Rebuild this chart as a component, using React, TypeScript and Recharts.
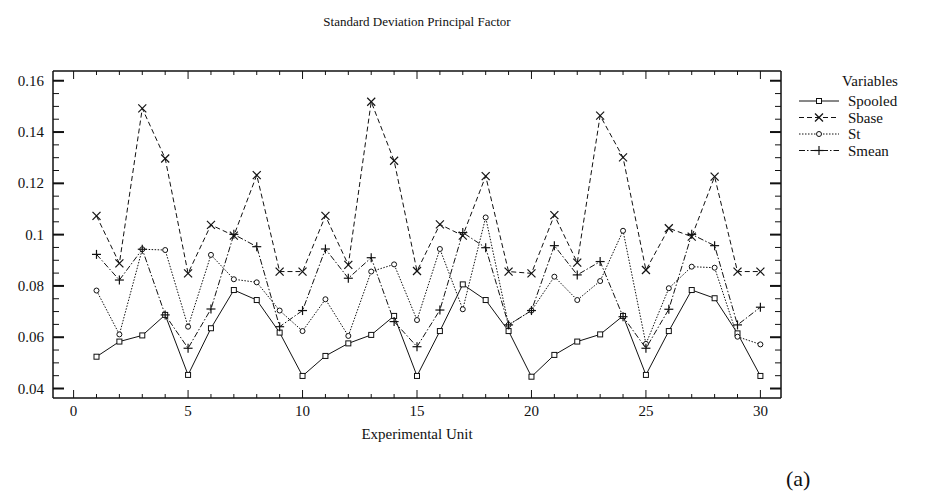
import React from 'react';
import { Line, LineChart, XAxis, YAxis } from 'recharts';

// values
const units = [1, 2, 3, 4, 5, 6, 7, 8, 9, 10, 11, 12, 13, 14, 15, 16, 17, 18, 19, 20, 21, 22, 23, 24, 25, 26, 27, 28, 29, 30];
const spooled = [0.0524, 0.0583, 0.0607, 0.0687, 0.0453, 0.0635, 0.0784, 0.0745, 0.0618, 0.0449, 0.0527, 0.0576, 0.0609, 0.0683, 0.0449, 0.0624, 0.0806, 0.0745, 0.0624, 0.0446, 0.0531, 0.0583, 0.0611, 0.0683, 0.0453, 0.0624, 0.0784, 0.0752, 0.0615, 0.0449];
const sbase = [0.1073, 0.0888, 0.1492, 0.1297, 0.0849, 0.1038, 0.0996, 0.1232, 0.0856, 0.0856, 0.1073, 0.0882, 0.1518, 0.1288, 0.0858, 0.104, 0.0996, 0.1228, 0.0856, 0.0849, 0.1076, 0.0891, 0.1464, 0.1301, 0.0862, 0.1025, 0.0992, 0.1226, 0.0856, 0.0856];
const st = [0.0782, 0.0611, 0.0943, 0.094, 0.0641, 0.0921, 0.0826, 0.0814, 0.0704, 0.0624, 0.0748, 0.0605, 0.0856, 0.0884, 0.0667, 0.0944, 0.0709, 0.1067, 0.0648, 0.0704, 0.0836, 0.0745, 0.0819, 0.1015, 0.0574, 0.0791, 0.0875, 0.0871, 0.0602, 0.0572];
const smean = [0.0923, 0.0823, 0.0943, 0.0687, 0.0557, 0.071, 0.1001, 0.0953, 0.0641, 0.0704, 0.0944, 0.083, 0.091, 0.0661, 0.0563, 0.0706, 0.1008, 0.0949, 0.0648, 0.0704, 0.0957, 0.0843, 0.0895, 0.068, 0.0557, 0.0709, 0.1001, 0.0957, 0.0648, 0.0717];

const xTicks = [0, 1, 2, 3, 4, 5, 6, 7, 8, 9, 10, 11, 12, 13, 14, 15, 16, 17, 18, 19, 20, 21, 22, 23, 24, 25, 26, 27, 28, 29, 30];
const yTicks = [0.04, 0.045, 0.05, 0.055, 0.06, 0.065, 0.07, 0.075, 0.08, 0.085, 0.09, 0.095, 0.1, 0.105, 0.11, 0.115, 0.12, 0.125, 0.13, 0.135, 0.14, 0.145, 0.15, 0.155, 0.16];

const data = units.map((u, i) => ({ unit: u, Spooled: spooled[i], Sbase: sbase[i], St: st[i], Smean: smean[i] }));

const FONT = "'Liberation Serif', 'Times New Roman', Times, serif";
const INK = '#111';

const series = [
  { key: 'Spooled', dash: undefined, marker: 'square' },
  { key: 'Sbase', dash: '5 3', marker: 'cross' },
  { key: 'St', dash: '1.5 1.5', marker: 'circle' },
  { key: 'Smean', dash: '6 2 1.5 2', marker: 'plus' },
];

function Marker({ type, cx, cy }: { type: string; cx: number; cy: number }) {
  if (type === 'square') return <rect x={cx - 2.5} y={cy - 2.5} width={5} height={5} fill="#fff" stroke={INK} strokeWidth={1} />;
  if (type === 'circle') return <circle cx={cx} cy={cy} r={2.5} fill="#fff" stroke={INK} strokeWidth={1} />;
  if (type === 'cross')
    return (
      <g stroke={INK} strokeWidth={1.2}>
        <line x1={cx - 4} y1={cy - 4} x2={cx + 4} y2={cy + 4} />
        <line x1={cx - 4} y1={cy + 4} x2={cx + 4} y2={cy - 4} />
      </g>
    );
  return (
    <g stroke={INK} strokeWidth={1.2}>
      <line x1={cx - 4.5} y1={cy} x2={cx + 4.5} y2={cy} />
      <line x1={cx} y1={cy - 4.5} x2={cx} y2={cy + 4.5} />
    </g>
  );
}

const isMajorX = (v: number) => v % 5 === 0;
const isMajorY = (v: number) => Math.round(v * 1000) % 20 === 0;

function BottomTick(props: any) {
  const { x, y, payload } = props;
  const major = isMajorX(payload.value);
  return (
    <g>
      <line x1={x} y1={y} x2={x} y2={y - (major ? 8 : 4)} stroke={INK} />
      {major && (
        <text x={x} y={y + 18} textAnchor="middle" fontFamily={FONT} fontSize={15} fill={INK}>
          {payload.value}
        </text>
      )}
    </g>
  );
}

function TopTick(props: any) {
  const { x, y, payload } = props;
  const major = isMajorX(payload.value);
  return <line x1={x} y1={y} x2={x} y2={y + (major ? 8 : 4)} stroke={INK} />;
}

function LeftTick(props: any) {
  const { x, y, payload } = props;
  const major = isMajorY(payload.value);
  return (
    <g>
      <line x1={x} y1={y} x2={x + (major ? 11 : 6)} y2={y} stroke={INK} strokeWidth={major ? 2 : 1} />
      {major && (
        <text x={x - 9} y={y + 5} textAnchor="end" fontFamily={FONT} fontSize={15} fill={INK}>
          {String(Number(payload.value.toFixed(3)))}
        </text>
      )}
    </g>
  );
}

function RightTick(props: any) {
  const { x, y, payload } = props;
  const major = isMajorY(payload.value);
  return <line x1={x} y1={y} x2={x - (major ? 11 : 6)} y2={y} stroke={INK} strokeWidth={major ? 2 : 1} />;
}

function LegendBox() {
  return (
    <svg width={160} height={110} style={{ position: 'absolute', left: 783, top: 68 }}>
      <text x={87} y={18} textAnchor="middle" fontFamily={FONT} fontSize={15} fill={INK}>
        Variables
      </text>
      {series.map((s, i) => {
        const y = 33 + i * 16.5;
        return (
          <g key={s.key}>
            <line x1={16} y1={y} x2={56} y2={y} stroke={INK} strokeDasharray={s.dash} />
            <Marker type={s.marker} cx={36} cy={y} />
            <text x={65} y={y + 5} fontFamily={FONT} fontSize={15} fill={INK}>
              {s.key}
            </text>
          </g>
        );
      })}
    </svg>
  );
}

export default function App() {
  return (
    <div style={{ position: 'absolute', left: 0, top: 0, width: 943, height: 497, background: '#fff', fontFamily: FONT }}>
      <div style={{ position: 'absolute', left: 0, width: 834, top: 14, textAlign: 'center', fontSize: 13, color: INK }}>
        Standard Deviation Principal Factor
      </div>
      <LineChart width={943} height={497} data={data} margin={{ top: 70, right: 161, bottom: 69, left: 8 }}>
        <XAxis
          dataKey="unit"
          type="number"
          domain={[-0.9, 30.9]}
          ticks={xTicks}
          interval={0}
          allowDataOverflow
          height={30}
          tickSize={0}
          tickMargin={0}
          tickLine={false}
          axisLine={{ stroke: INK, strokeWidth: 1.5 }}
          tick={<BottomTick />}
          label={{ value: 'Experimental Unit', position: 'insideBottom', offset: -11, fontFamily: FONT, fontSize: 15, fill: INK }}
        />
        <XAxis
          xAxisId="top"
          orientation="top"
          dataKey="unit"
          type="number"
          domain={[-0.9, 30.9]}
          ticks={xTicks}
          interval={0}
          allowDataOverflow
          height={1}
          tickSize={0}
          tickMargin={0}
          tickLine={false}
          axisLine={{ stroke: INK, strokeWidth: 1.5 }}
          tick={<TopTick />}
        />
        <YAxis
          type="number"
          domain={[0.0363, 0.1638]}
          ticks={yTicks}
          interval={0}
          allowDataOverflow
          width={45}
          tickSize={0}
          tickMargin={0}
          tickLine={false}
          axisLine={{ stroke: INK, strokeWidth: 1.5 }}
          tick={<LeftTick />}
        />
        <YAxis
          yAxisId="right"
          orientation="right"
          type="number"
          domain={[0.0363, 0.1638]}
          ticks={yTicks}
          interval={0}
          allowDataOverflow
          width={1}
          tickSize={0}
          tickMargin={0}
          tickLine={false}
          axisLine={{ stroke: INK, strokeWidth: 1.5 }}
          tick={<RightTick />}
        />
        {series.map((s) => (
          <Line
            key={s.key}
            dataKey={s.key}
            type="linear"
            stroke={INK}
            strokeWidth={1}
            strokeDasharray={s.dash}
            isAnimationActive={false}
            dot={(p: any) => <Marker key={`${s.key}-${p.index}`} type={s.marker} cx={p.cx} cy={p.cy} />}
            activeDot={false}
          />
        ))}
      </LineChart>
      <LegendBox />
      <div style={{ position: 'absolute', left: 786, top: 466, fontSize: 22, color: INK }}>(a)</div>
    </div>
  );
}
